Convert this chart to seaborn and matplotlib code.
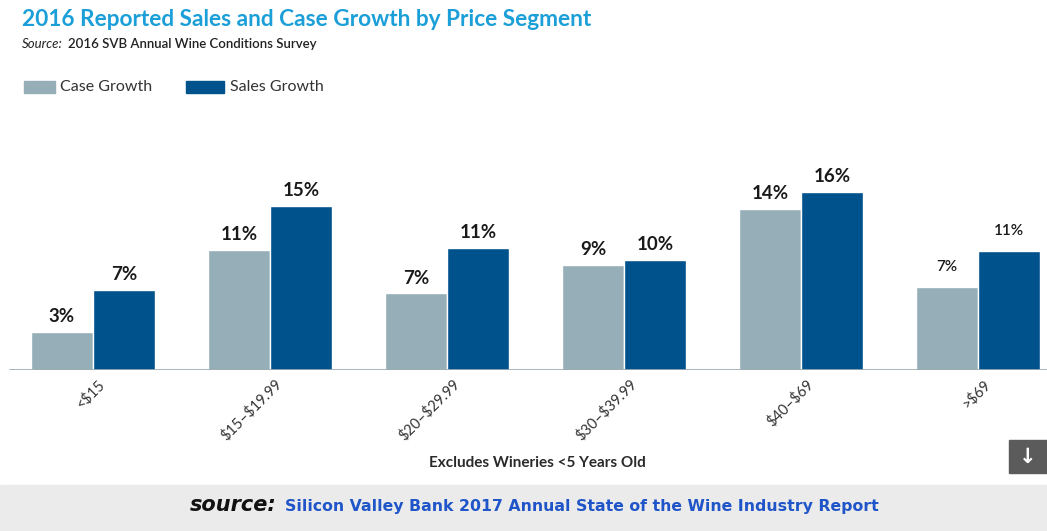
import matplotlib
matplotlib.use("Agg")
import matplotlib.pyplot as plt
from matplotlib.patches import Rectangle
import matplotlib.transforms as mtransforms
import seaborn as sns
import pandas as pd

# data
segments = ["<$15", "$15–$19.99", "$20–$29.99", "$30–$39.99", "$40–$69", ">$69"]
case_growth = [3.5, 11.0, 7.0, 9.6, 14.7, 7.6]
sales_growth = [7.3, 15.0, 11.2, 10.1, 16.3, 10.9]
case_labels = ["3%", "11%", "7%", "9%", "14%", "7%"]
sales_labels = ["7%", "15%", "11%", "10%", "16%", "11%"]
series = ["Case Growth", "Sales Growth"]

case_col = "#95aeb8"
sales_col = "#00528c"

df = pd.DataFrame({
    "segment": segments * 2,
    "growth": case_growth + sales_growth,
    "series": [series[0]] * 6 + [series[1]] * 6,
})

sns.set_style("white")
plt.rcParams["font.family"] = ["Lato", "DejaVu Sans"]
plt.rcParams["text.parse_math"] = False   # the $ signs are money, not math

W, H = 1047, 531
fig = plt.figure(figsize=(W / 100, H / 100), dpi=100)
fig.patch.set_facecolor("white")

# axes in pixel terms: baseline at y=370, top at y=100
ax = fig.add_axes([0, (H - 370) / H, 1, 270 / H])
sns.barplot(data=df, x="segment", y="growth", hue="series",
            palette=[case_col, sales_col], width=0.7, saturation=1,
            legend=False, ax=ax)
ax.set_xlim(-0.525, 5.39)
ax.set_ylim(0, 24.7)
ax.set_xlabel("")
ax.set_ylabel("")
ax.set_yticks([])
for s in ax.spines.values():
    s.set_visible(False)
ax.axhline(0, xmin=10 / W, xmax=1, color="#9aa9b0", lw=1.2, zorder=5)

# value labels
for cont, labs in zip(ax.containers, [case_labels, sales_labels]):
    for i, (bar, lab) in enumerate(zip(cont, labs)):
        big = i < 5
        ax.annotate(lab, (bar.get_x() + bar.get_width() / 2, bar.get_height()),
                    xytext=(0, 5 if big else 9), textcoords="offset points",
                    ha="center", va="bottom",
                    fontsize=13.5 if big else 11,
                    fontweight="bold" if big else "semibold",
                    color="#1a1a1a")

# rotated category labels
ax.tick_params(axis="x", length=0, pad=5)
offset = mtransforms.ScaledTranslation(5 / 100, 0, fig.dpi_scale_trans)
for t in ax.get_xticklabels():
    t.set_parse_math(False)
    t.set_rotation(45)
    t.set_ha("right")
    t.set_rotation_mode("anchor")
    t.set_fontsize(10.5)
    t.set_color("#333333")
    t.set_transform(t.get_transform() + offset)

# title and subtitle
fig.text(22 / W, 1 - 19 / H, "2016 Reported Sales and Case Growth by Price Segment",
         fontsize=16.3, fontweight="bold", color="#1b9fd8", ha="left", va="center")
fig.text(22 / W, 1 - 44 / H, "Source:", fontsize=9.5, style="italic",
         color="#222222", ha="left", va="center")
fig.text(68 / W, 1 - 44 / H, "2016 SVB Annual Wine Conditions Survey", fontsize=9.5,
         fontweight="semibold", color="#222222", ha="left", va="center")

# legend
fig.patches.append(Rectangle((24 / W, 1 - 93 / H), 31 / W, 12 / H,
                             transform=fig.transFigure, color=case_col))
fig.text(60 / W, 1 - 87 / H, series[0], fontsize=11.5, color="#333333",
         ha="left", va="center")
fig.patches.append(Rectangle((186 / W, 1 - 93 / H), 38 / W, 12 / H,
                             transform=fig.transFigure, color=sales_col))
fig.text(230 / W, 1 - 87 / H, series[1], fontsize=11.5, color="#333333",
         ha="left", va="center")

# note under the chart
fig.text(537 / W, 1 - 463 / H, "Excludes Wineries <5 Years Old", fontsize=11,
         fontweight="bold", color="#2a2a2a", ha="center", va="center")

# footer band
fig.patches.append(Rectangle((0, 0), 1, (H - 485) / H, transform=fig.transFigure,
                             color="#ebebeb", zorder=0))
fig.text(277 / W, 1 - 505 / H, "source:", fontsize=15, fontweight="heavy",
         style="italic", family="DejaVu Sans", color="#111111",
         ha="right", va="center")
fig.text(285 / W, 1 - 506 / H,
         "Silicon Valley Bank 2017 Annual State of the Wine Industry Report",
         fontsize=11.3, fontweight="bold", family="DejaVu Sans", color="#1f55c8",
         ha="left", va="center")

# little download button
fig.patches.append(Rectangle((1009 / W, 1 - 473 / H), 40 / W, 33 / H,
                             transform=fig.transFigure, color="#5b5b5b"))
fig.text(1028 / W, 1 - 457 / H, "↓", fontsize=15, fontweight="bold",
         family="DejaVu Sans", color="white", ha="center", va="center")

fig.savefig("out.png", dpi=100, facecolor=fig.get_facecolor())
